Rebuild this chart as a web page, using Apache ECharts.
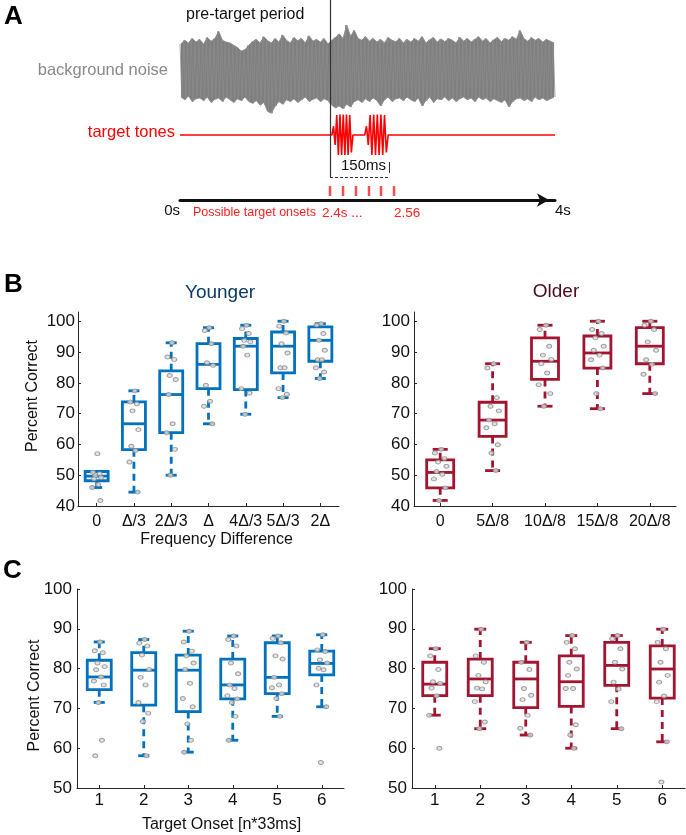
<!DOCTYPE html>
<html><head><meta charset="utf-8">
<script src="https://cdn.jsdelivr.net/npm/echarts@6/dist/echarts.min.js"></script>
<style>html,body{margin:0;padding:0;background:#fff}#c{width:686px;height:835px}</style>
</head><body><div id="c"></div>
<script>
const FONT = '"Liberation Sans", Arial, Helvetica, sans-serif';

// ---------- Panel A (schematic) ----------
const NOISE_UPPER = [0.58,0.66,0.6,0.7,0.62,0.68,0.57,0.72,0.64,0.7,
  0.86,0.66,0.62,0.6,0.55,0.5,0.42,0.45,0.55,0.63,
  0.68,0.6,0.74,0.65,0.6,0.7,0.62,0.78,0.66,0.6,
  0.72,0.65,0.7,0.6,0.76,0.64,0.68,0.62,0.7,0.58,
  0.66,0.72,0.8,0.7,1.0,0.75,0.88,0.7,0.66,0.74,
  0.64,0.7,0.62,0.68,0.6,0.72,0.66,0.63,0.7,0.6,
  0.68,0.62,0.7,0.64,0.74,0.6,0.67,0.72,0.62,0.69,
  0.63,0.7,0.66,0.6,0.73,0.64,0.7,0.62,0.68,0.74,
  0.64,0.7,0.6,0.67,0.72,0.63,0.7,0.66,0.74,0.68,
  0.88,0.7,0.64,0.72,0.66,0.7,0.62,0.68,0.64,0.6];
const NOISE_LOWER = [-0.6,-0.66,-0.58,-0.7,-0.64,-0.62,-0.68,-0.6,-0.72,-0.65,
  -0.62,-0.7,-0.6,-0.66,-0.72,-0.64,-0.68,-0.6,-0.7,-0.74,
  -0.68,-0.78,-0.72,-0.92,-0.96,-0.8,-0.7,-0.76,-0.66,-0.7,
  -0.64,-0.72,-0.66,-0.6,-0.7,-0.65,-0.62,-0.7,-0.64,-0.68,
  -0.78,-0.84,-0.8,-0.86,-0.76,-0.82,-0.7,-0.66,-0.72,-0.64,
  -0.7,-0.62,-0.68,-0.8,-0.66,-0.6,-0.7,-0.64,-0.62,-0.68,
  -0.6,-0.66,-0.7,-0.62,-0.8,-0.68,-0.6,-0.72,-0.64,-0.66,
  -0.6,-0.68,-0.62,-0.7,-0.64,-0.6,-0.66,-0.62,-0.7,-0.6,
  -0.66,-0.62,-0.7,-0.64,-0.68,-0.72,-0.66,-0.82,-0.7,-0.64,
  -0.62,-0.68,-0.64,-0.7,-0.6,-0.66,-0.62,-0.68,-0.64,-0.6];
const TONE_BURST_AMP = [0,0.35,-0.4,0.8,-0.8,0.82,-0.8,0.82,-0.8,0.82,-0.8,0.8,-0.7,0];
const TONE_BURSTS = [[1.62,1.845],[1.97,2.22]];
const PRE_TARGET_END = 1.6;
const TONE_SPAN_END = 2.23;
const ONSETS = [1.6,1.739,1.877,2.016,2.144,2.283];

// ---------- Panel B ----------
const CATS_B_YOUNG = ['0','Δ/3','2Δ/3','Δ','4Δ/3','5Δ/3','2Δ'];
// [lower whisker, q1, median, q3, upper whisker]
const STATS_B_YOUNG = [
  [46.0,48.2,49.7,51.2,51.2],
  [44.5,58.3,66.7,73.8,77.4],
  [50.0,63.8,76.2,83.9,93.0],
  [66.7,78.1,86.0,92.7,97.9],
  [69.8,77.8,91.9,94.4,98.7],
  [75.2,83.2,91.9,96.5,100],
  [81.4,87.0,93.8,98.2,99.2]];
const PTS_B_YOUNG = [
  [57,51,50.5,49.8,49.3,48.8,47,46,41.8],
  [77.4,73.8,73.2,70.9,64.8,59.4,58,54.3,44.5],
  [93,88.4,87.6,82.4,81.1,76.2,66.7,63.8,58.4,50],
  [97.9,97,92.7,86.5,85.7,79.2,74,72.4,66.7],
  [98.7,97.6,96,93.8,93.3,91.9,89,78.1,76.7,69.8],
  [100,98.4,96.2,92.7,89.7,84.9,84.9,78.1,76.3,75.2],
  [99.2,98.8,96,93.8,90.6,87.5,87.5,84.9,83.5,81.4]];

const CATS_B_OLD = ['0','5Δ/8','10Δ/8','15Δ/8','20Δ/8'];
const STATS_B_OLD = [
  [41.8,45.9,50.9,55.0,58.4],
  [51.5,62.6,67.9,73.7,86.2],
  [72.4,81.1,87.0,94.6,98.7],
  [71.6,84.8,89.7,95.2,100],
  [76.5,86.2,91.9,97.9,100]];
const PTS_B_OLD = [
  [58.4,57.2,55.4,54.3,52.9,51.2,50.3,48.8,45.9,41.8],
  [86.2,84.8,75.2,72.4,70.9,67.9,66.7,65.4,59.9,57.2,51.5],
  [98.7,97.3,91.9,89,87.6,86.2,83.2,79.4,76.5,72.4],
  [100,97.3,96,94.6,91.9,90.6,89,87.5,84.8,76.5,71.6],
  [100,98.7,97.3,93.3,90.6,87.5,86,82.8,76.5]];

// ---------- Panel C ----------
const CATS_C = ['1','2','3','4','5','6'];
const STATS_C_YOUNG = [
  [71.5,74.7,77.9,82.1,86.7],
  [58.1,70.8,79.6,84.0,87.3],
  [59.0,69.2,79.6,83.4,89.4],
  [62.0,72.4,75.9,82.4,88.2],
  [68.0,73.7,77.8,86.5,88.2],
  [70.4,78.4,81.3,84.4,88.5]];
const PTS_C_YOUNG = [
  [86.7,84.5,84,81.4,80.5,79.7,77.9,76.9,75.9,71.5,62,58.1],
  [87.3,86.4,85.7,83.4,79.8,77.8,75.9,71.5,68.8,66.7,58.1],
  [89.4,86.7,84.4,83.2,81.4,79.8,76.3,72.5,70.4,66.1,62,59],
  [88.2,87.3,85.7,81.4,78.7,75.9,75,73.2,72.4,71.5,68,62],
  [88.2,87.6,86.5,83.2,82.4,77.8,75.9,75.2,73.7,72.5,68],
  [88.5,84.7,84.3,82.2,81.4,80.1,79.7,75.9,70.4,56.4]];
const STATS_C_OLD = [
  [68.3,73.2,76.1,81.6,85.0],
  [64.9,73.2,77.4,82.4,89.9],
  [63.3,70.2,77.4,81.6,86.6],
  [60.0,70.5,76.7,83.2,88.3],
  [64.9,75.8,80.8,86.6,88.3],
  [61.6,72.6,79.9,85.7,89.9]];
const PTS_C_OLD = [
  [85,83.2,79.8,76.7,76.3,75.1,73.2,68.3,60],
  [89.9,83.2,81.6,78.3,76.7,75.1,74.9,71.7,66.6,64.9],
  [86.6,81.6,79.8,75,73.3,72.2,68.3,65,63.3],
  [88.3,86.6,85,81.6,79.9,78.3,75,75,65.9,63.3,60],
  [88.3,87.5,85,81.6,79.9,76.6,74.9,71.7,64.9],
  [89.9,86.6,85,81.6,78.3,76.6,73.1,71.7,61.6,51.5]];

const TICKS_B = [40,50,60,70,80,90,100];
const TICKS_C = [50,60,70,80,90,100];
// fixed horizontal spread of the dots inside a category (fraction of band)
const JITTER = [0.02,-0.1,0.08,-0.04,0.12,-0.07,0.04,-0.12,0.1,-0.02,0.06,-0.09];

const BLUE = '#0072BD', RED = '#A2142F', AX = '#262626';

// ---------- build ----------
const toneData = [[0,0]];
TONE_BURSTS.forEach(([s,e]) => {
  const n = TONE_BURST_AMP.length;
  TONE_BURST_AMP.forEach((a,k) => toneData.push([s + (e - s) * k / (n - 1), a]));
});
toneData.push([4,0]);

// envelope band + waveform alternating between upper and lower envelope values
const noiseIdx = NOISE_UPPER.map((_, i) => i);
const noiseWave = [];
NOISE_UPPER.forEach((u, i) => { noiseWave.push([i - 0.25, u]); noiseWave.push([i + 0.25, NOISE_LOWER[i]]); });

function boxRenderer(color, boxW, capW) {
  return function (params, api) {
    const i = api.value(0);
    const c = v => api.coord([i, v]);
    const lo = c(api.value(1)), q1 = c(api.value(2)), md = c(api.value(3)), q3 = c(api.value(4)), hi = c(api.value(5));
    const x = md[0], h = boxW / 2, cw = capW / 2;
    const solid = {stroke: color, lineWidth: 2.8, fill: null};
    const dash = {stroke: color, lineWidth: 2.8, lineDash: [7, 5], fill: null};
    const ch = [];
    if (hi[1] < q3[1] - 1) ch.push({type: 'line', shape: {x1: x, y1: q3[1], x2: x, y2: hi[1]}, style: dash});
    if (lo[1] > q1[1] + 1) ch.push({type: 'line', shape: {x1: x, y1: q1[1], x2: x, y2: lo[1]}, style: dash});
    ch.push({type: 'line', shape: {x1: x - cw, y1: hi[1], x2: x + cw, y2: hi[1]}, style: solid});
    ch.push({type: 'line', shape: {x1: x - cw, y1: lo[1], x2: x + cw, y2: lo[1]}, style: solid});
    ch.push({type: 'rect', shape: {x: x - h, y: q3[1], width: boxW, height: q1[1] - q3[1]},
      style: {stroke: color, lineWidth: 2.8, fill: 'rgba(0,0,0,0)'}});
    ch.push({type: 'line', shape: {x1: x - h, y1: md[1], x2: x + h, y2: md[1]}, style: solid});
    return {type: 'group', children: ch};
  };
}
function pointsData(pts) {
  const d = [];
  pts.forEach((arr, i) => arr.forEach((v, k) => d.push([i + JITTER[k % JITTER.length], v])));
  return d;
}

const grids = [
  {left: 180, top: 0, width: 375, height: 200},
  {left: 180, top: 25, width: 375, height: 90},
  {left: 180, top: 110, width: 375, height: 50},
  {left: 78, top: 312, width: 261, height: 194},
  {left: 414, top: 312, width: 262, height: 194},
  {left: 77, top: 589, width: 267, height: 199},
  {left: 412, top: 589, width: 273, height: 199}
].map(g => Object.assign(g, {containLabel: false, outerBoundsMode: 'none'}));

function catAxis(gi, cats, fs, name, gap, pad) {
  return {
    type: 'category', gridIndex: gi, data: cats, boundaryGap: true, position: 'bottom',
    axisLine: {show: true, onZero: false, lineStyle: {color: AX, width: 1}},
    axisTick: {show: true, inside: true, length: 3, alignWithLabel: true, lineStyle: {color: AX}},
    axisLabel: {interval: 0, fontSize: fs, color: '#111', fontFamily: FONT, margin: gi >= 5 ? 4 : 8, hideOverlap: false},
    splitLine: {show: false},
    name: name || '', nameLocation: 'middle', nameGap: gap || 0, nameMoveOverlap: false,
    nameTextStyle: {fontSize: 16, color: '#111', fontFamily: FONT, padding: pad || 0}
  };
}
function valAxis(gi, min, max, ticks, margin, name, gap, pad) {
  return {
    type: 'value', gridIndex: gi, min: min, max: max, interval: 10, position: 'left',
    axisLine: {show: true, onZero: false, lineStyle: {color: AX, width: 1}},
    axisTick: {show: true, inside: true, length: 3, lineStyle: {color: AX}, customValues: ticks},
    axisLabel: {fontSize: 17, color: '#111', fontFamily: FONT, margin: margin, customValues: ticks},
    splitLine: {show: false},
    name: name || '', nameLocation: 'middle', nameGap: gap || 0, nameMoveOverlap: false,
    nameTextStyle: {fontSize: 16, color: '#111', fontFamily: FONT, padding: pad || 0}
  };
}
function hiddenVal(gi, n) {
  return {type: 'value', gridIndex: gi, min: -0.5, max: n - 0.5, show: false};
}

const xAxis = [
  {type: 'value', gridIndex: 0, min: 0, max: 4, interval: 4, position: 'bottom',
    axisLine: {show: true, onZero: false, symbol: ['none', 'arrow'], symbolSize: [10, 12], symbolOffset: [0, -6],
      lineStyle: {color: '#111', width: 3}},
    axisTick: {show: false}, splitLine: {show: false},
    axisLabel: {show: true, margin: 3, fontSize: 15, color: '#111', fontFamily: FONT,
      formatter: '{value}s', alignMinLabel: 'right', alignMaxLabel: 'left'}},
  {type: 'value', gridIndex: 1, min: -0.25, max: NOISE_UPPER.length - 0.75, show: false},
  {type: 'value', gridIndex: 2, min: 0, max: 4, show: false},
  catAxis(3, CATS_B_YOUNG, 16, 'Frequency Difference', 26, [0, 0, 0, 16]),
  catAxis(4, CATS_B_OLD, 16),
  catAxis(5, CATS_C, 17, 'Target Onset [n*33ms]', 29, [0, 0, 0, 22]),
  catAxis(6, CATS_C, 17),
  hiddenVal(3, CATS_B_YOUNG.length),
  hiddenVal(4, CATS_B_OLD.length),
  hiddenVal(5, CATS_C.length),
  hiddenVal(6, CATS_C.length)
];
const yAxis = [
  {type: 'value', gridIndex: 0, min: 0, max: 200, inverse: true, show: false},
  {type: 'value', gridIndex: 1, min: -1, max: 1, show: false},
  {type: 'value', gridIndex: 2, min: -1, max: 1, show: false},
  valAxis(3, 40, 103, TICKS_B, 3, 'Percent Correct', 37, [0, 0, 0, 26]),
  valAxis(4, 40, 103, TICKS_B, 4),
  valAxis(5, 50, 100, TICKS_C, 5, 'Percent Correct', 34, [0, 14, 0, 0]),
  valAxis(6, 50, 100, TICKS_C, 5)
];

function boxSeries(ax, stats, color, boxW, capW) {
  return {type: 'custom', xAxisIndex: ax, yAxisIndex: ax, z: 2,
    data: stats.map((s, i) => [i].concat(s)),
    encode: {x: 0, y: [1, 2, 3, 4, 5]},
    renderItem: boxRenderer(color, boxW, capW), silent: true};
}
function dotSeries(xi, yi, pts) {
  return {type: 'scatter', xAxisIndex: xi, yAxisIndex: yi, z: 5, symbol: 'circle', symbolSize: [5, 4],
    itemStyle: {color: '#dcdcdc', borderColor: '#8a8a8a', borderWidth: 1}, data: pointsData(pts), silent: true};
}

const series = [
  {type: 'line', xAxisIndex: 1, yAxisIndex: 1, data: noiseIdx.map(i => [i, NOISE_UPPER[i]]), symbol: 'none', z: 1,
    lineStyle: {color: '#8f8f8f', width: 1}, areaStyle: {color: '#7f7f7f', opacity: 1}},
  {type: 'line', xAxisIndex: 1, yAxisIndex: 1, data: noiseIdx.map(i => [i, NOISE_LOWER[i]]), symbol: 'none', z: 1,
    lineStyle: {color: '#8f8f8f', width: 1}, areaStyle: {color: '#7f7f7f', opacity: 1}},
  {type: 'line', xAxisIndex: 1, yAxisIndex: 1, data: noiseWave, symbol: 'none', z: 1,
    lineStyle: {color: '#8c8c8c', width: 0.8}},
  {type: 'line', xAxisIndex: 2, yAxisIndex: 2, data: toneData, symbol: 'none', z: 2,
    lineStyle: {color: '#ff0000', width: 1.6}},
  {type: 'scatter', xAxisIndex: 0, yAxisIndex: 0, z: 3, symbol: 'rect', symbolSize: [2.5, 10],
    itemStyle: {color: '#ff2020'}, data: ONSETS.map(t => [t, 191]), silent: true,
    markLine: {silent: true, symbol: 'none', label: {show: false}, animation: false,
      data: [
        [{coord: [PRE_TARGET_END, 0], lineStyle: {color: '#333', width: 1.2, type: 'solid'}}, {coord: [PRE_TARGET_END, 177]}],
        [{coord: [PRE_TARGET_END, 177], lineStyle: {color: '#333', width: 1, type: [3, 2]}}, {coord: [TONE_SPAN_END, 177]}],
        [{coord: [TONE_SPAN_END, 162], lineStyle: {color: '#333', width: 1, type: 'solid'}}, {coord: [TONE_SPAN_END, 173]}]
      ]}},
  boxSeries(3, STATS_B_YOUNG, BLUE, 23, 11),
  boxSeries(4, STATS_B_OLD, RED, 27, 15),
  boxSeries(5, STATS_C_YOUNG, BLUE, 24, 11),
  boxSeries(6, STATS_C_OLD, RED, 24, 12),
  dotSeries(7, 3, PTS_B_YOUNG),
  dotSeries(8, 4, PTS_B_OLD),
  dotSeries(9, 5, PTS_C_YOUNG),
  dotSeries(10, 6, PTS_C_OLD)
];

function txt(text, x, y, size, color, align, weight) {
  return {type: 'text', x: x, y: y, z: 10, silent: true,
    style: {text: text, fill: color, font: (weight || 'normal') + ' ' + size + 'px ' + FONT,
      align: align || 'left', verticalAlign: 'middle'}};
}
const graphic = [
  txt('A', 4, 17, 26, '#000', 'left', 'bold'),
  txt('pre-target period', 186, 15, 16, '#111'),
  txt('background noise', 168, 70, 16.5, '#8a8a8a', 'right'),
  txt('target tones', 175, 132, 16.5, '#ff0000', 'right'),
  txt('150ms', 341, 166, 15, '#111'),
  txt('Possible target onsets', 193, 213, 12.5, '#ff2020'),
  txt('2.4s ...', 322, 213, 13.5, '#ff2020'),
  txt('2.56', 394, 213, 13.5, '#ff2020'),
  txt('B', 4, 285, 26, '#000', 'left', 'bold'),
  txt('Younger', 220, 293, 19, '#0b3a66', 'center'),
  txt('Older', 556, 292, 19, '#4a0b1d', 'center'),
  txt('C', 3, 571, 26, '#000', 'left', 'bold')
];

const chart = echarts.init(document.getElementById('c'), null, {renderer: 'canvas'});
chart.setOption({animation: false, backgroundColor: '#fff', grid: grids, xAxis: xAxis, yAxis: yAxis, series: series, graphic: graphic});
</script>
</body></html>
